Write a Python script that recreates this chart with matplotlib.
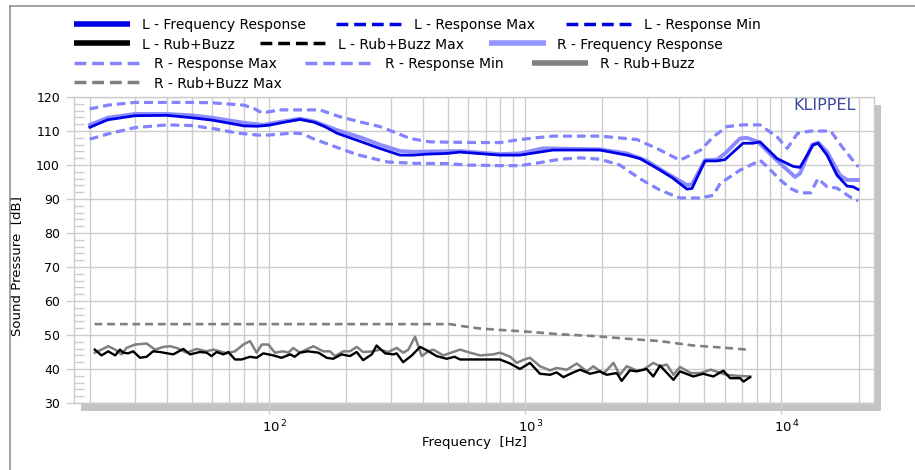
import matplotlib
matplotlib.use('Agg')
import matplotlib.pyplot as plt
from matplotlib.lines import Line2D
from matplotlib.patches import Rectangle
from matplotlib.ticker import FixedLocator, MultipleLocator, NullFormatter, LogLocator
import matplotlib.transforms as mtransforms

plt.rcParams['font.family'] = ['DejaVu Sans']
plt.rcParams['mathtext.fontset'] = 'dejavusans'

# ---------------- data ----------------
L_FR_FREQ = [20, 23.5, 30, 40, 50, 60, 70, 80, 90, 100, 115, 132, 150, 165, 185, 200, 230, 270,
             325, 365, 415, 495, 557, 797, 954, 1284, 1958, 2496, 2806, 3360, 3775, 4280, 4477,
             5031, 5605, 6025, 7080, 7745, 8251, 9614, 11100, 11820, 13290, 13900, 15070, 16480,
             18030, 19030, 19910]
L_FR = [111.1, 113.3, 114.5, 114.6, 113.9, 113.2, 112.3, 111.5, 111.4, 111.7, 112.6, 113.4, 112.6,
        111.3, 109.3, 108.4, 106.8, 104.9, 102.9, 102.9, 103.2, 103.4, 103.8, 102.9, 102.9, 104.4,
        104.4, 102.9, 101.9, 98.5, 96.1, 92.9, 93.1, 101.2, 101.2, 101.6, 106.4, 106.4, 106.8,
        101.9, 99.6, 99.3, 105.9, 106.4, 102.9, 97.0, 93.8, 93.6, 92.8]

R_FR_FREQ = [20, 23.5, 30, 40, 50, 60, 80, 95, 111, 132, 150, 184, 230, 270, 325, 365, 557, 797,
             954, 1173, 1958, 2496, 2988, 3577, 4280, 4477, 5031, 5605, 6025, 6894, 7337, 8104,
             9270, 11300, 11820, 13160, 13900, 15070, 16930, 18030, 19910]
R_FR = [111.8, 113.9, 115.0, 115.0, 114.6, 113.9, 112.4, 111.8, 112.7, 113.6, 112.8, 110.3, 108.0,
        106.0, 104.1, 103.9, 104.1, 103.2, 103.4, 104.9, 104.6, 103.4, 101.2, 97.5, 94.1, 94.3,
        101.4, 101.6, 103.4, 107.8, 108.0, 106.8, 102.4, 96.5, 97.5, 105.9, 106.6, 103.9, 97.0,
        95.6, 95.6]

MAX_FREQ = [20, 23.5, 30, 40, 50, 60, 80, 88, 94, 110, 158, 189, 226, 271, 310, 355, 425, 667,
            797, 954, 1280, 1958, 2730, 3360, 4019, 4840, 5420, 6130, 7080, 8250, 9610, 10540,
            11560, 12990, 15570, 17220, 19910]
R_RESP_MAX = [116.5, 117.6, 118.4, 118.4, 118.4, 118.3, 117.6, 116.5, 115.3, 116.2, 116.2, 114.2,
              112.7, 111.3, 109.6, 107.8, 106.8, 106.6, 106.6, 107.5, 108.5, 108.5, 107.5, 104.4,
              101.4, 104.4, 108.3, 111.3, 111.8, 111.8, 108.3, 104.9, 109.3, 110.0, 110.0, 105.4,
              99.5]
L_RESP_MAX = [116.5, 117.6, 118.4, 118.4, 118.4, 118.3, 117.6, 116.5, 115.3, 116.2, 116.2, 114.2,
              112.7, 111.3, 109.6, 107.8, 106.8, 106.6, 106.6, 107.5, 108.5, 108.5, 107.5, 104.4,
              101.4, 104.4, 108.3, 111.3, 111.8, 111.8, 108.3, 104.9, 109.3, 110.0, 110.0, 105.4,
              99.5]

MIN_FREQ = [20, 23.7, 30, 40, 50, 63, 75, 90, 100, 124, 135, 148, 184, 220, 255, 290, 365, 495,
            592, 797, 954, 1140, 1370, 1640, 1958, 2340, 2800, 3360, 4019, 4840, 5420, 5770, 6900,
            7745, 8250, 8800, 9900, 10850, 11820, 12990, 13900, 15070, 16480, 18530, 19910]
R_RESP_MIN = [107.6, 109.2, 111.0, 111.8, 111.6, 110.5, 109.4, 108.8, 108.8, 109.4, 109.2, 107.8,
              105.2, 103.1, 101.9, 100.9, 100.5, 100.4, 100.0, 99.8, 99.8, 100.7, 101.7, 102.1,
              101.7, 100.0, 96.0, 92.6, 90.3, 90.3, 91.1, 94.6, 98.5, 100.3, 101.4, 99.5, 95.6,
              93.1, 91.8, 91.8, 96.0, 93.6, 93.2, 90.6, 89.5]
L_RESP_MIN = [107.6, 109.2, 111.0, 111.8, 111.6, 110.5, 109.4, 108.8, 108.8, 109.4, 109.2, 107.8,
              105.2, 103.1, 101.9, 100.9, 100.5, 100.4, 100.0, 99.8, 99.8, 100.7, 101.7, 102.1,
              101.7, 100.0, 96.0, 92.6, 90.3, 90.3, 91.1, 94.6, 98.5, 100.3, 101.4, 99.5, 95.6,
              93.1, 91.8, 91.8, 96.0, 93.6, 93.2, 90.6, 89.5]

L_RB_FREQ = [20.9, 22.2, 23.6, 25.1, 26.2, 27.0, 28.2, 29.5, 31.4, 33.3, 35.3, 37.5, 42.3, 46.3,
             49.2, 53.8, 57.1, 59.7, 62.5, 66.3, 69.4, 73.7, 78.2, 84.3, 89.5, 95.0, 104, 112, 121,
             126, 132, 142, 156, 168, 178, 192, 207, 220, 233, 252, 263, 284, 306, 315, 334, 361,
             389, 413, 451, 494, 530, 557, 666, 797, 874, 954, 1044, 1142, 1250, 1327, 1409, 1542,
             1638, 1791, 1958, 2080, 2276, 2380, 2560, 2720, 2980, 3162, 3360, 3790, 4020, 4530,
             4950, 5420, 5930, 6310, 6900, 7110, 7550]
L_RB = [45.7, 44.0, 45.2, 44.0, 45.7, 44.8, 44.6, 45.2, 43.3, 43.6, 45.2, 45.0, 44.3, 45.9, 44.3,
        45.0, 44.8, 43.8, 45.0, 44.3, 45.0, 42.8, 42.8, 43.6, 43.3, 44.6, 44.0, 43.3, 44.3, 43.6,
        44.8, 45.2, 44.8, 43.3, 43.0, 44.3, 43.8, 45.0, 42.6, 44.3, 46.9, 44.6, 44.3, 44.6, 42.0,
        44.0, 46.5, 45.5, 43.8, 43.0, 43.6, 42.8, 42.8, 42.8, 41.6, 40.0, 41.8, 38.6, 38.3, 39.0,
        37.6, 39.0, 39.8, 38.6, 39.3, 38.3, 38.8, 36.5, 39.6, 39.3, 40.0, 37.8, 41.0, 36.8, 39.3,
        37.8, 38.6, 37.8, 39.5, 37.3, 37.3, 36.3, 37.6]

R_RB_FREQ = [20.9, 22.2, 23.6, 25.1, 26.6, 27.8, 30.0, 33.3, 35.9, 38.7, 41.1, 43.6, 47.7, 52.2,
             57.1, 60.6, 64.4, 68.4, 73.7, 79.4, 84.3, 89.5, 93.7, 99.4, 105.5, 113.7, 119, 124.4,
             132, 148.9, 162.9, 173, 181, 195, 207, 220, 233, 255, 271, 292, 315, 334, 350, 371.5,
             394.5, 419, 438, 479, 557, 609, 667, 749, 797, 874, 927, 991, 1044, 1142, 1250, 1327,
             1452, 1590, 1738, 1845, 2020, 2210, 2340, 2490, 2720, 2890, 3162, 3360, 3570, 3790,
             4020, 4430, 4840, 5300, 5800, 6100, 6700, 7550]
R_RB = [44.8, 45.7, 46.7, 45.7, 44.3, 46.2, 47.2, 47.5, 45.7, 46.5, 46.7, 46.2, 44.8, 45.9, 45.2,
        45.7, 45.2, 44.6, 45.2, 47.2, 48.2, 44.8, 47.2, 47.2, 44.8, 45.2, 44.8, 46.2, 44.8, 46.7,
        45.2, 45.2, 43.8, 45.2, 45.2, 46.5, 45.0, 45.2, 45.7, 45.0, 46.2, 44.8, 45.7, 49.5, 43.8,
        45.2, 45.7, 44.0, 45.7, 44.8, 44.0, 44.3, 44.8, 43.6, 41.8, 42.8, 43.3, 40.8, 39.6, 40.3,
        39.8, 41.6, 39.3, 40.8, 38.6, 41.8, 38.3, 40.8, 39.6, 39.8, 41.8, 40.8, 41.3, 38.3, 40.6,
        38.8, 38.8, 39.8, 38.8, 38.3, 38.0, 37.8]

RB_MAX_FREQ = [20.9, 509, 557, 667, 797, 1013, 1370, 1840, 2500, 3360, 4540, 6130, 7340]
L_RB_MAX = [53.2, 53.2, 52.7, 51.9, 51.5, 51.0, 50.2, 49.7, 48.9, 48.2, 46.9, 46.2, 45.7]
R_RB_MAX = [53.2, 53.2, 52.7, 51.9, 51.5, 51.0, 50.2, 49.7, 48.9, 48.2, 46.9, 46.2, 45.7]

X_TICKS = [100, 1000, 10000]
X_TICK_LABELS = [r'$10^{\,2}$', r'$10^{\,3}$', r'$10^{\,4}$']
Y_TICKS = [30, 40, 50, 60, 70, 80, 90, 100, 110, 120]

# ---------------- figure ----------------
W, H = 915, 470
fig = plt.figure(figsize=(W / 100, H / 100), dpi=100)
fig.patch.set_facecolor('white')
ax = fig.add_axes([74 / W, 1 - 403 / H, 800 / W, 306 / H])
ax.set_facecolor('white')

# drop shadow of the plot area
shadow = Rectangle((81 / W, 1 - 410.5 / H), 800 / W, 306 / H, transform=fig.transFigure,
                   facecolor='#c4c4c4', edgecolor='none', zorder=-1)
fig.add_artist(shadow)

# outer frame (left + top)
fig.add_artist(Line2D([9.5 / W, 9.5 / W], [0, 1 - 5.5 / H], transform=fig.transFigure,
                      color='#8a8a8a', lw=1.1))
fig.add_artist(Line2D([9.5 / W, 1], [1 - 5.5 / H, 1 - 5.5 / H], transform=fig.transFigure,
                      color='#8a8a8a', lw=1.1))

BLUE = '#0000e6'
LIGHT = '#8c8cff'
DASH_LIGHT = '#8484ff'
GRAY = '#808080'


def dashes(lw, on_pt, off_pt):
    """dash pattern with absolute lengths in points, independent of line width"""
    return (0, (on_pt / lw, off_pt / lw))


ax.plot(R_FR_FREQ, R_FR, color=LIGHT, lw=2.8, zorder=3, solid_joinstyle='round')
ax.plot(L_FR_FREQ, L_FR, color=BLUE, lw=2.0, zorder=4, solid_joinstyle='round')
# L max/min lie exactly beneath the R max/min curves (hidden, as in the reference)
ax.plot(MAX_FREQ, L_RESP_MAX, color=BLUE, lw=1.4, ls=dashes(1.4, 6.0, 3.9), zorder=5)
ax.plot(MIN_FREQ, L_RESP_MIN, color=BLUE, lw=1.4, ls=dashes(1.4, 6.0, 3.9), zorder=5)
ax.plot(MAX_FREQ, R_RESP_MAX, color=DASH_LIGHT, lw=2.3, ls=dashes(2.3, 6.0, 3.9), zorder=6)
ax.plot(MIN_FREQ, R_RESP_MIN, color=DASH_LIGHT, lw=2.3, ls=dashes(2.3, 6.0, 3.9), zorder=6)

ax.plot(R_RB_FREQ, R_RB, color=GRAY, lw=1.8, zorder=3)
ax.plot(L_RB_FREQ, L_RB, color='black', lw=1.7, zorder=4)
ax.plot(RB_MAX_FREQ, L_RB_MAX, color='black', lw=1.0, ls=dashes(1.0, 5.3, 3.8), zorder=5)
ax.plot(RB_MAX_FREQ, R_RB_MAX, color=GRAY, lw=1.9, ls=dashes(1.9, 5.3, 3.8), zorder=6)

ax.set_xscale('log')
ax.set_xlim(17.34, 22980)
ax.set_ylim(30, 120)

GRID = '#cccccc'
ax.xaxis.set_major_locator(FixedLocator(X_TICKS))
ax.set_xticklabels(X_TICK_LABELS)
ax.xaxis.set_minor_locator(LogLocator(base=10, subs=[2, 3, 4, 5, 6, 7, 8, 9], numticks=30))
ax.xaxis.set_minor_formatter(NullFormatter())
ax.yaxis.set_major_locator(FixedLocator(Y_TICKS))
ax.yaxis.set_minor_locator(MultipleLocator(2))

ax.grid(which='both', axis='x', color=GRID, lw=1.0, zorder=1)
ax.grid(which='major', axis='y', color=GRID, lw=1.0, zorder=1)
ax.set_axisbelow(True)

ax.tick_params(axis='x', which='major', direction='out', length=8, width=1.0, color=GRID,
               labelsize=9.5, pad=3.5)
ax.tick_params(axis='x', which='minor', length=0)
ax.tick_params(axis='y', which='major', direction='out', length=5.8, width=1.0, color=GRID,
               labelsize=9, pad=4.3)
ax.tick_params(axis='y', which='minor', direction='in', length=7, width=1.0, color=GRID)
for sp in ax.spines.values():
    sp.set_color(GRID)
    sp.set_linewidth(1.0)

offset = mtransforms.ScaledTranslation(6 / 100, 0, fig.dpi_scale_trans)
for lab in ax.get_xticklabels():
    lab.set_transform(lab.get_transform() + offset)

ax.set_xlabel('Frequency  [Hz]', fontsize=9.5)
ax.xaxis.set_label_coords(0.5, (403 - 436) / 306)
ax.set_ylabel('Sound Pressure  [dB]', fontsize=9.5)
ax.yaxis.set_label_coords((23.5 - 74) / 800, (403 - 266) / 306)

ax.text(0.9775, 0.996, 'KLIPPEL', transform=ax.transAxes, ha='right', va='top',
        fontsize=11.5, color='#3b4a9c')

# ---------------- legend (flow layout, 4 rows) ----------------
ROW_Y = [24, 43.3, 62.7, 82]
legend_items = [
    # label, color, style, row, x0, x1, xtext
    ('L - Frequency Response', BLUE, 'solid', 0, 74, 129.5, 141.5),
    ('L - Response Max', BLUE, 'dash', 0, 336, 404, 414),
    ('L - Response Min', BLUE, 'dash', 0, 566, 634, 643.5),
    ('L - Rub+Buzz', 'black', 'solid', 1, 74, 129.5, 141.5),
    ('L - Rub+Buzz Max', 'black', 'dash', 1, 260, 328, 338),
    ('R - Frequency Response', '#9595ff', 'solid', 1, 489, 545.5, 557),
    ('R - Response Max', DASH_LIGHT, 'dash', 2, 74, 142, 154.5),
    ('R - Response Min', DASH_LIGHT, 'dash', 2, 305, 373, 385),
    ('R - Rub+Buzz', GRAY, 'solid', 2, 532, 588, 600),
    ('R - Rub+Buzz Max', GRAY, 'dash', 3, 74, 142, 154.5),
]
for label, col, style, row, x0, x1, xt in legend_items:
    yf = 1 - ROW_Y[row] / H
    if style == 'solid':
        ln = Line2D([x0 / W, x1 / W], [yf, yf], transform=fig.transFigure, color=col,
                    lw=4.0, solid_capstyle='butt')
    else:
        ln = Line2D([x0 / W, x1 / W], [yf, yf], transform=fig.transFigure, color=col,
                    lw=2.5, ls=(0, (3.4, 1.7)), dash_capstyle='butt')
    fig.add_artist(ln)
    fig.text(xt / W, yf, label, ha='left', va='center_baseline', fontsize=10, color='black')

fig.savefig('out.png', dpi=100, facecolor='white')
